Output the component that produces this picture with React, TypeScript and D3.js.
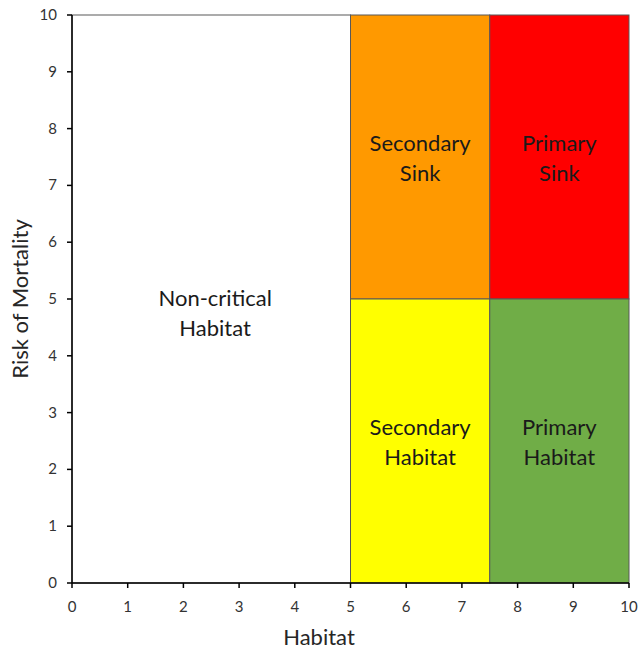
import React from "react";
import * as d3 from "d3";

const xTicks = [0, 1, 2, 3, 4, 5, 6, 7, 8, 9, 10];
const yTicks = [0, 1, 2, 3, 4, 5, 6, 7, 8, 9, 10];
const zoneNames = ["Non-critical", "Secondary Sink", "Primary Sink", "Secondary Habitat", "Primary Habitat"];
const zoneX0 = [0, 5, 7.5, 5, 7.5];
const zoneX1 = [5, 7.5, 10, 7.5, 10];
const zoneY0 = [0, 5, 5, 0, 0];
const zoneY1 = [10, 10, 10, 5, 5];
const zoneColors = ["#FFFFFF", "#FF9900", "#FF0000", "#FFFF00", "#70AD47"];
const labelLines = [["Non-critical", "Habitat"], ["Secondary", "Sink"], ["Primary", "Sink"], ["Secondary", "Habitat"], ["Primary", "Habitat"]];
const labelX = [2.57, 6.25, 8.75, 6.25, 8.75];
const labelY = [4.77, 7.5, 7.5, 2.5, 2.5];

export default function App() {
  const W = 640, H = 651;
  const x = d3.scaleLinear().domain([0, 10]).range([72, 629]);
  const y = d3.scaleLinear().domain([0, 10]).range([583, 15]);
  const font = "Lato, 'Open Sans', sans-serif";
  return (
    <svg width={W} height={H} style={{ position: "absolute", left: 0, top: 0, background: "#fff" }}>
      {zoneNames.map((n, i) => (
        <rect key={n} x={x(zoneX0[i])} y={y(zoneY1[i])} width={x(zoneX1[i]) - x(zoneX0[i])}
          height={y(zoneY0[i]) - y(zoneY1[i])} fill={zoneColors[i]} stroke="#595959" strokeWidth={1} />
      ))}
      {labelLines.map((lines, i) => (
        <text key={i} x={x(labelX[i])} y={y(labelY[i])} textAnchor="middle" fontFamily={font} fontSize={22} fill="#1a1a1a">
          <tspan x={x(labelX[i])} dy={-6}>{lines[0]}</tspan>
          <tspan x={x(labelX[i])} dy={30}>{lines[1]}</tspan>
        </text>
      ))}
      <line x1={x(0)} x2={x(0)} y1={y(0)} y2={y(10)} stroke="#000" strokeWidth={1.5} />
      <line x1={x(0)} x2={x(10)} y1={y(0)} y2={y(0)} stroke="#000" strokeWidth={1.5} />
      {yTicks.map(t => (
        <g key={"y" + t}>
          <line x1={x(0) - 5} x2={x(0)} y1={y(t)} y2={y(t)} stroke="#000" strokeWidth={1.5} />
          <text x={57} y={y(t) + 5} textAnchor="end" fontFamily={font} fontSize={15} fill="#333">{t}</text>
        </g>
      ))}
      {xTicks.map(t => (
        <g key={"x" + t}>
          <line x1={x(t)} x2={x(t)} y1={y(0)} y2={y(0) + 5} stroke="#000" strokeWidth={1.5} />
          <text x={x(t)} y={612} textAnchor="middle" fontFamily={font} fontSize={15} fill="#333">{t}</text>
        </g>
      ))}
      <text x={319} y={645} textAnchor="middle" fontFamily={font} fontSize={22} fill="#262626">Habitat</text>
      <text transform={`translate(28,${y(5)}) rotate(-90)`} textAnchor="middle" fontFamily={font} fontSize={22} fill="#262626">Risk of Mortality</text>
    </svg>
  );
}
